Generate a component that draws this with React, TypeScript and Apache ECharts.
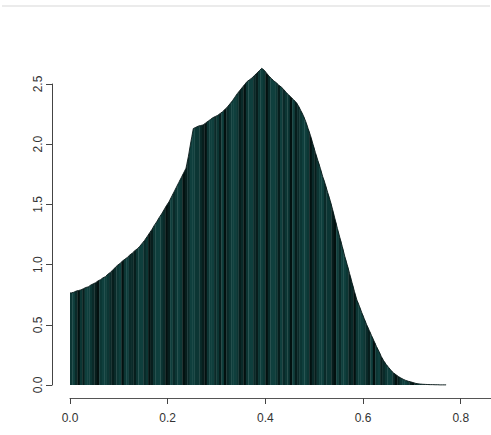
import React, { useEffect, useRef } from "react";
import * as echarts from "echarts";

// Bin width of the histogram (x units); bins start at 0
const binWidth = 0.005;

// Density height of each bin (154 bins from 0 to 0.77)
const densities: number[] = [
  0.765, 0.77, 0.78, 0.785, 0.79, 0.8, 0.81, 0.815, 0.83, 0.84,
  0.85, 0.865, 0.875, 0.89, 0.9, 0.92, 0.935, 0.955, 0.975, 0.995,
  1.01, 1.03, 1.045, 1.06, 1.08, 1.095, 1.115, 1.13, 1.15, 1.175,
  1.2, 1.23, 1.26, 1.29, 1.325, 1.355, 1.39, 1.42, 1.455, 1.49,
  1.52, 1.56, 1.6, 1.64, 1.68, 1.72, 1.76, 1.8, 1.9, 2.02,
  2.13, 2.14, 2.15, 2.155, 2.16, 2.175, 2.19, 2.205, 2.22, 2.23,
  2.24, 2.255, 2.27, 2.29, 2.31, 2.335, 2.36, 2.39, 2.42, 2.445,
  2.47, 2.495, 2.52, 2.535, 2.55, 2.57, 2.59, 2.61, 2.63, 2.615,
  2.59, 2.565, 2.545, 2.525, 2.51, 2.49, 2.475, 2.455, 2.43, 2.41,
  2.39, 2.37, 2.35, 2.32, 2.28, 2.24, 2.19, 2.13, 2.07, 2.0,
  1.93, 1.865, 1.8, 1.73, 1.67, 1.6, 1.535, 1.46, 1.38, 1.3,
  1.225, 1.15, 1.07, 1.0, 0.925, 0.85, 0.775, 0.705, 0.655, 0.6,
  0.55, 0.5, 0.455, 0.41, 0.365, 0.32, 0.28, 0.235, 0.2, 0.17,
  0.145, 0.12, 0.1, 0.085, 0.07, 0.058, 0.047, 0.038, 0.031, 0.026,
  0.02, 0.014, 0.01, 0.008, 0.006, 0.005, 0.004, 0.003, 0.003, 0.002,
  0.002, 0.001, 0.001, 0.001,
];

const xTicks = [0, 0.2, 0.4, 0.6, 0.8];
const yTicks = [0, 0.5, 1.0, 1.5, 2.0, 2.5];

// Shades of the stripes and the order in which they occur (style only)
const shades = ["#031110", "#071e1d", "#0a2a29", "#0c3634", "#0f3f3d"];
const shadePattern =
  "34203144321034432123403422134423013443201423430124433210344231402344312034421343024431423304123443021344233104244312034432140341234420134431023443120434423103442130423";

export default function App() {
  const ref = useRef<HTMLDivElement>(null);

  useEffect(() => {
    if (!ref.current) return;
    const chart = echarts.init(ref.current, null, { renderer: "svg" });
    const n = densities.length;
    const data = densities.map((v, i) => [i * binWidth, (i + 1) * binWidth, v]);
    const outline: number[][] = [[0, densities[0]]];
    densities.forEach((v, i) => outline.push([(i + 0.5) * binWidth, v]));
    outline.push([n * binWidth, densities[n - 1]]);
    const labelFont = {
      fontFamily: "Liberation Sans, Arial, Helvetica, sans-serif",
      fontSize: 12,
      color: "#333",
    };
    chart.setOption({
      animation: false,
      backgroundColor: "#ffffff",
      grid: { left: 70, right: 0, top: 84, bottom: 50, containLabel: false },
      xAxis: {
        type: "value",
        min: 0,
        max: 0.862,
        interval: 0.2,
        offset: 13,
        splitLine: { show: false },
        axisLine: { show: true, onZero: false, lineStyle: { color: "#555", width: 1 } },
        axisTick: {
          show: true,
          length: 6,
          customValues: xTicks,
          lineStyle: { color: "#444" },
        },
        axisLabel: {
          ...labelFont,
          margin: 14,
          customValues: xTicks,
          formatter: (v: number) => v.toFixed(1),
        },
      },
      yAxis: {
        type: "value",
        min: 0,
        max: 2.5,
        interval: 0.5,
        offset: 18,
        splitLine: { show: false },
        axisLine: { show: true, onZero: false, lineStyle: { color: "#444", width: 1 } },
        axisTick: {
          show: true,
          length: 6,
          customValues: yTicks,
          lineStyle: { color: "#444" },
        },
        axisLabel: {
          ...labelFont,
          rotate: 90,
          margin: 8,
          customValues: yTicks,
          formatter: (v: number) => v.toFixed(1),
        },
      },
      graphic: [
        {
          type: "line",
          shape: { x1: 2, y1: 6, x2: 490, y2: 6 },
          style: { stroke: "#e4e4e4", lineWidth: 1.5 },
          silent: true,
        },
      ],
      series: [
        {
          type: "custom",
          clip: false,
          data,
          renderItem: (params: any, api: any) => {
            const i = params.dataIndex;
            const x0 = api.value(0);
            const x1 = api.value(1);
            const v = api.value(2);
            const vl = i > 0 ? (densities[i - 1] + v) / 2 : v;
            const vr = i < n - 1 ? (densities[i + 1] + v) / 2 : v;
            const pl = api.coord([x0, vl]);
            const pc = api.coord([(x0 + x1) / 2, v]);
            const pr = api.coord([x1, vr]);
            const bl = api.coord([x0, 0]);
            const br = api.coord([x1, 0]);
            const c = shades[Number(shadePattern[i % shadePattern.length])];
            return {
              type: "polygon",
              shape: {
                points: [
                  [bl[0], bl[1]],
                  [pl[0], pl[1]],
                  [pc[0], pc[1]],
                  [pr[0] + 0.3, pr[1]],
                  [br[0] + 0.3, br[1]],
                ],
              },
              style: { fill: c, stroke: null },
            };
          },
        },
        {
          type: "line",
          clip: false,
          data: outline,
          symbol: "none",
          lineStyle: { color: "#0a1a1a", width: 0.9 },
          z: 3,
        },
      ],
    });
    return () => chart.dispose();
  }, []);

  return (
    <div
      ref={ref}
      style={{ position: "fixed", left: 0, top: 0, width: 491, height: 435 }}
    />
  );
}
